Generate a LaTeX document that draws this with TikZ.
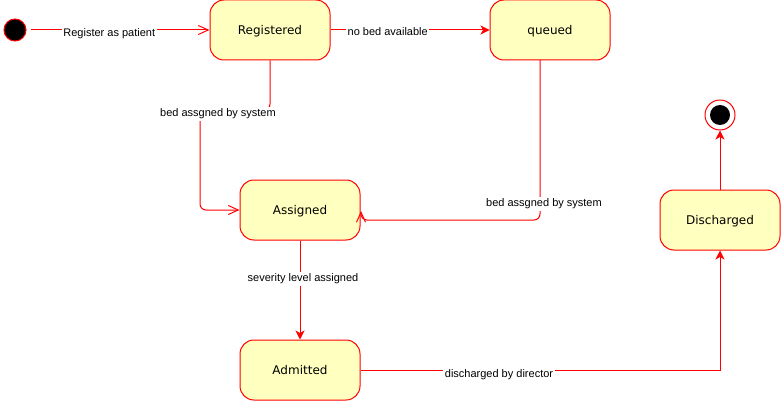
\documentclass[tikz,border=0pt]{standalone}
\usepackage{fontspec}
\setmainfont{Liberation Sans}
\newfontfamily\statefont{DejaVu Sans}
\usetikzlibrary{arrows.meta}

\definecolor{statefill}{HTML}{FFFFC0}
\definecolor{stateline}{HTML}{FF0000}

\tikzset{
  state/.style={draw=stateline, fill=statefill, line width=1pt, rounded corners=14pt,
    minimum width=120pt, minimum height=60pt, inner sep=0pt, text depth=0pt,
    font=\statefont\fontsize{12}{14}\selectfont},
  lbl/.style={fill=white, inner sep=1.5pt, font=\fontsize{11}{13}\selectfont},
  trans/.style={draw=stateline, line width=1pt, -{Stealth[length=9pt,width=9pt,inset=2.5pt]}},
  opentrans/.style={draw=stateline, line width=1pt, -{Straight Barb[length=10pt,width=9pt]}}
}

\begin{document}
\begin{tikzpicture}[x=1pt, y=-1pt]
\useasboundingbox (0,0) rectangle (781,401);
% start and end points
\node[circle, draw=stateline, fill=black, line width=1pt, minimum size=22pt, inner sep=0pt] (init) at (15,30) {};
\node[circle, draw=stateline, fill=white, line width=1pt, minimum size=30pt, inner sep=0pt] (fin) at (720,115) {};
\node[circle, fill=black, minimum size=20pt, inner sep=0pt] at (fin) {};

% states
\node[state] (reg) at (270,30) {Registered};
\node[state] (que) at (550,30) {queued};
\node[state] (asg) at (300,210) {Assigned};
\node[state] (adm) at (300,370) {Admitted};
\node[state] (dis) at (720,220) {Discharged};
\coordinate (queOut) at (540,60);
\coordinate (asgIn) at (361,211);

% transitions
\draw[opentrans] ([xshift=4pt]init.east) -- node[lbl, pos=0.44, yshift=-4pt] {Register as patient} (reg);
\draw[trans] (reg) -- node[lbl, pos=0.36, yshift=-2pt] {no bed available} (que);
\draw[opentrans, rounded corners=6pt] (reg.south) -- (270,110) -- (200,110) -- (200,210) -- (asg.west);
\node[lbl] (lreg) at (218,114) {bed assgned by system};
\draw[opentrans, rounded corners=6pt] (queOut) -- (540,220) -- (361,220) -- (asgIn);
\node[lbl] (lque) at (544,204) {bed assgned by system};
\draw[trans] (asg) -- node[lbl, pos=0.39, xshift=3pt] {severity level assigned} (adm);
\draw[trans] (adm.east) -- (720,370) -- (dis.south);
\node[lbl] (ladm) at (499,375) {discharged by director};
\draw[trans] (dis) -- (fin);
\end{tikzpicture}
\end{document}
